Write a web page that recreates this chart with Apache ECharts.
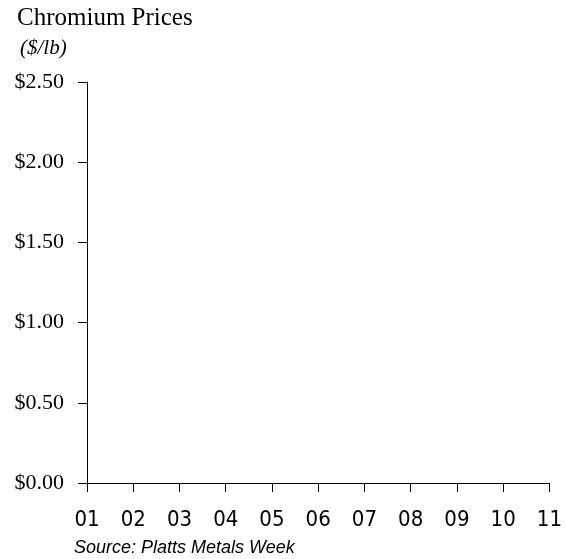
<!DOCTYPE html>
<html>
<head>
<meta charset="utf-8">
<script src="https://cdn.jsdelivr.net/npm/echarts@6/dist/echarts.min.js"></script>
<style>
  html, body { margin: 0; padding: 0; background: #fff; }
  #chart { width: 565px; height: 559px; }
</style>
</head>
<body>
<div id="chart"></div>
<script>
// years on the x axis (2001 - 2011)
const years = ['01', '02', '03', '04', '05', '06', '07', '08', '09', '10', '11']
// no price line is drawn in the picture, so every value is empty
const chromiumPrices = [null, null, null, null, null, null, null, null, null, null, null]
// y axis range, $/lb
const priceMin = 0
const priceMax = 2.5
const priceStep = 0.5

const chart = echarts.init(document.getElementById('chart'))
const option = {
    animation: false,
    title: {
        text: 'Chromium Prices',
        left: 17,
        top: 6,
        padding: 0,
        textStyle: {
            fontFamily: 'Liberation Serif',
            fontSize: 25,
            fontWeight: 'normal',
            color: '#000'
        }
    },
    graphic: [
        {
            type: 'text',
            left: 20,
            top: 38,
            style: {
                text: '($/lb)',
                font: 'italic 21px "Liberation Serif"',
                fill: '#000'
            }
        },
        {
            type: 'text',
            left: 74,
            top: 539,
            style: {
                text: 'Source: Platts Metals Week',
                font: 'italic 18px "Liberation Sans"',
                fill: '#000'
            }
        }
    ],
    grid: {
        left: 87,
        right: 13,
        top: 82,
        bottom: 76,
        containLabel: false
    },
    xAxis: {
        type: 'category',
        data: years,
        boundaryGap: false,
        axisLine: { lineStyle: { color: '#000', width: 1 } },
        axisTick: { show: true, length: 9, lineStyle: { color: '#000' } },
        axisLabel: {
            margin: 26,
            fontFamily: '"Liberation Sans Narrow", "DejaVu Sans Condensed", sans-serif',
            fontSize: 22,
            color: '#000'
        },
        splitLine: { show: false }
    },
    yAxis: {
        type: 'value',
        min: priceMin,
        max: priceMax,
        interval: priceStep,
        axisLine: { show: true, lineStyle: { color: '#000', width: 1 } },
        axisTick: { show: true, length: 9, lineStyle: { color: '#000' } },
        axisLabel: {
            margin: 23,
            fontFamily: 'Liberation Serif',
            fontSize: 22,
            color: '#000',
            formatter: v => '$' + v.toFixed(2)
        },
        splitLine: { show: false }
    },
    series: [
        {
            name: 'Chromium',
            type: 'line',
            data: chromiumPrices,
            symbol: 'none',
            lineStyle: { color: '#000' }
        }
    ]
}
chart.setOption(option)
</script>
</body>
</html>
